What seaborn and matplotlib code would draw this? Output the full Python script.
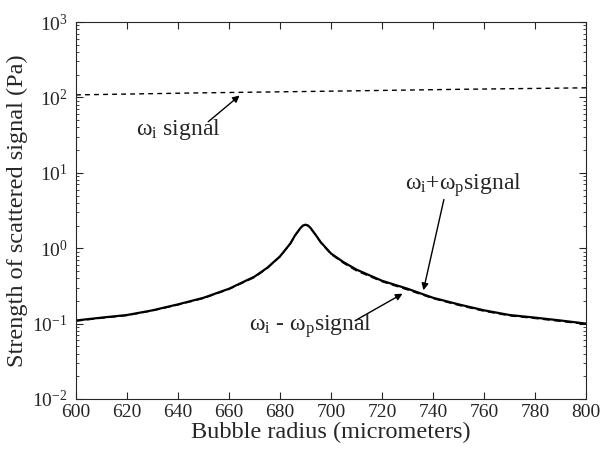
import matplotlib
matplotlib.use('Agg')
import matplotlib.pyplot as plt
import seaborn as sns
import pandas as pd

# data
radius = [600, 610, 620, 630, 640, 650, 660, 670, 675, 680, 684, 686, 688, 689, 690,
          691, 692, 694, 696, 700, 705, 710, 720, 730, 740, 750, 760, 770, 780, 790, 800]
sum_signal = [0.11, 0.12, 0.13, 0.15, 0.18, 0.22, 0.29, 0.42, 0.55, 0.78, 1.15, 1.5, 1.85, 2.0, 2.05,
              2.0, 1.85, 1.5, 1.2, 0.85, 0.65, 0.52, 0.37, 0.29, 0.22, 0.18, 0.15, 0.13, 0.12, 0.11, 0.10]
diff_signal = [0.108, 0.118, 0.128, 0.148, 0.177, 0.216, 0.285, 0.41, 0.54, 0.77, 1.13, 1.48, 1.83, 1.98, 2.03,
               1.98, 1.83, 1.48, 1.18, 0.83, 0.63, 0.50, 0.36, 0.28, 0.215, 0.175, 0.146, 0.127, 0.117, 0.107, 0.098]
radius_i = [600, 650, 700, 750, 800]
omega_i_signal = [108, 115, 121, 128, 134]

sns.set_style('ticks')
plt.rcParams['font.family'] = ['Liberation Serif', 'DejaVu Serif']
plt.rcParams['mathtext.fontset'] = 'custom'
plt.rcParams['mathtext.rm'] = 'Liberation Serif'
plt.rcParams['mathtext.it'] = 'Liberation Serif:italic'
plt.rcParams['xtick.direction'] = 'in'
plt.rcParams['ytick.direction'] = 'in'

df = pd.DataFrame({'r': radius, 'plus': sum_signal, 'minus': diff_signal})
df_i = pd.DataFrame({'r': radius_i, 'wi': omega_i_signal})

fig = plt.figure(figsize=(6, 4.51), dpi=100)
ax = fig.add_axes([0.1267, 0.1153, 0.85, 0.8359])

sns.lineplot(data=df_i, x='r', y='wi', ax=ax, color='black', lw=1.0, linestyle=(0, (3.5, 3)))
sns.lineplot(data=df, x='r', y='plus', ax=ax, color='black', lw=1.6)
sns.lineplot(data=df, x='r', y='minus', ax=ax, color='black', lw=1.0, linestyle=(0, (5, 3)))

ax.set_yscale('log')
ax.set_xlim(600, 800)
ax.set_ylim(1e-2, 1e3)
ax.set_xticks(range(600, 801, 20))
ax.tick_params(axis='both', which='both', top=True, right=True, labelsize=14)
ax.tick_params(axis='y', pad=6)
ax.tick_params(which='major', length=5)
ax.tick_params(which='minor', length=2.5)
ax.set_xlabel('Bubble radius (micrometers)', fontsize=17.5, labelpad=1)
ax.set_ylabel('Strength of scattered signal (Pa)', fontsize=17.5, labelpad=3)
for s in ax.spines.values():
    s.set_linewidth(0.8)

arrow = dict(arrowstyle='-|>', color='black', lw=1.0, mutation_scale=10)
ax.annotate('', xy=(665, 112), xytext=(651, 45), arrowprops=arrow)
ax.text(640, 37, r'ω$_{\rm i}$ signal', fontsize=17, ha='center', va='center')

ax.annotate('', xy=(736, 0.255), xytext=(744.5, 4.8), arrowprops=arrow)
ax.text(752, 6.9, r'ω$_{\rm i}$+ω$_{\rm p}$signal', fontsize=17, ha='center', va='center')

ax.annotate('', xy=(729, 0.26), xytext=(708.5, 0.105), arrowprops=arrow)
ax.text(692, 0.094, r'ω$_{\rm i}$ - ω$_{\rm p}$signal', fontsize=17, ha='center', va='center')

fig.savefig('out.png', dpi=100)
